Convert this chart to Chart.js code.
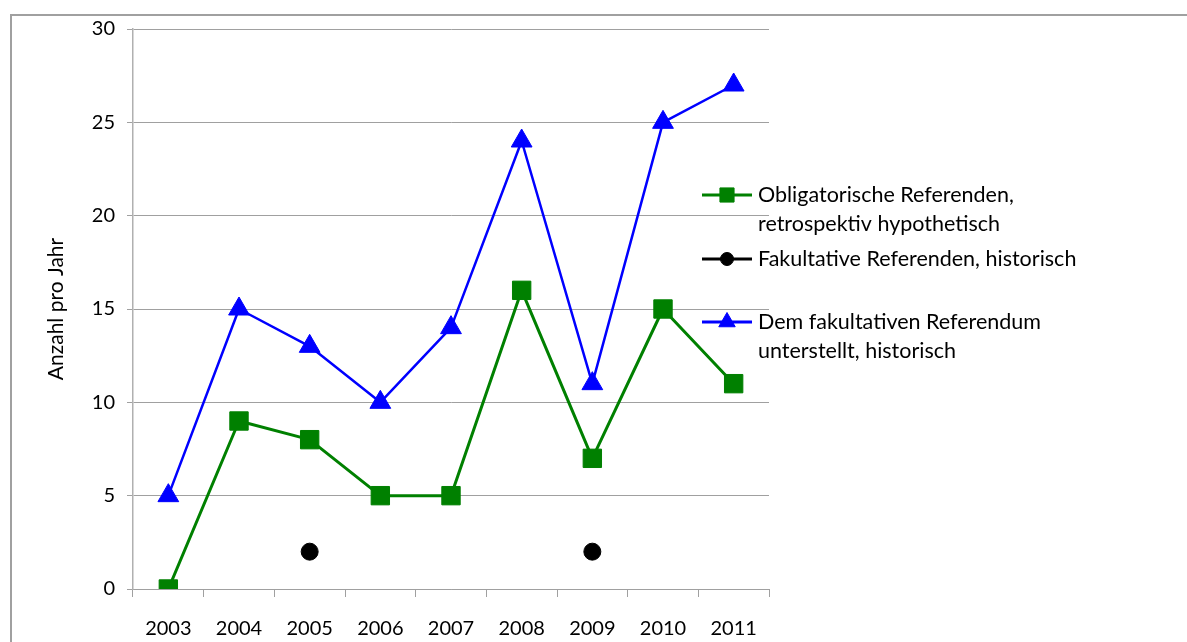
<!DOCTYPE html>
<html>
<head>
<meta charset="utf-8">
<script src="https://cdn.jsdelivr.net/npm/chart.js@4/dist/chart.umd.min.js"></script>
<style>
  html, body { margin: 0; padding: 0; background: #fff; overflow: hidden; }
  #frame { position: absolute; left: 10px; top: 14px; width: 1300px; height: 800px; border: 2px solid #a0a0a0; box-sizing: border-box; }
  #wrap { position: absolute; left: 0; top: 0; width: 1187px; height: 642px; }
</style>
</head>
<body>
<div id="frame"></div>
<div id="wrap"><canvas id="c" width="1187" height="642"></canvas></div>
<script>
const years = ['2003', '2004', '2005', '2006', '2007', '2008', '2009', '2010', '2011'];
const obligatorisch = [0, 9, 8, 5, 5, 16, 7, 15, 11];
const fakultativ = [null, null, 2, null, null, null, 2, null, null];
const unterstellt = [5, 15, 13, 10, 14, 24, 11, 25, 27];
const seriesLabels = [
  ['Obligatorische Referenden,', 'retrospektiv hypothetisch'],
  ['Fakultative Referenden, historisch'],
  ['Dem fakultativen Referendum', 'unterstellt, historisch']
];
const yTicks = [0, 5, 10, 15, 20, 25, 30];
const yTitle = 'Anzahl pro Jahr';

const FONT = 'Lato, "Open Sans", sans-serif';

const legendPlugin = {
  id: 'customLegend',
  afterDraw(chart) {
    const ctx = chart.ctx;
    const x0 = 702, x1 = 752, tx = 758;
    const rows = [195, 259, 322];
    const lh = 29;
    ctx.save();
    chart.data.datasets.forEach((ds, i) => {
      const y = rows[i];
      ctx.strokeStyle = ds.borderColor;
      ctx.lineWidth = 3;
      ctx.beginPath();
      ctx.moveTo(x0, y);
      ctx.lineTo(x1, y);
      ctx.stroke();
      ctx.fillStyle = ds.pointBackgroundColor;
      ctx.strokeStyle = ds.pointBorderColor;
      ctx.lineWidth = 1;
      Chart.helpers.drawPoint(ctx, {
        pointStyle: ds.pointStyle,
        radius: ds.legendRadius,
        borderWidth: 1,
        rotation: 0
      }, (x0 + x1) / 2, y);
      ctx.fillStyle = '#000';
      ctx.font = '21.5px ' + FONT;
      ctx.textBaseline = 'middle';
      ctx.textAlign = 'left';
      ds.label.forEach((t, j) => ctx.fillText(t, tx, y + j * lh));
    });
    ctx.restore();
  }
};

new Chart(document.getElementById('c'), {
  type: 'line',
  data: {
    labels: years,
    datasets: [
      {
        label: seriesLabels[0],
        data: obligatorisch,
        borderColor: '#008000',
        backgroundColor: '#008000',
        pointBackgroundColor: '#008000',
        pointBorderColor: '#008000',
        borderWidth: 3,
        pointStyle: 'rect',
        pointRadius: 13,
        legendRadius: 10,
        pointBorderWidth: 1,
        tension: 0,
        fill: false
      },
      {
        label: seriesLabels[1],
        data: fakultativ,
        borderColor: '#000000',
        backgroundColor: '#000000',
        pointBackgroundColor: '#000000',
        pointBorderColor: '#000000',
        borderWidth: 3,
        pointStyle: 'circle',
        pointRadius: 8.5,
        legendRadius: 6.5,
        pointBorderWidth: 1,
        spanGaps: false,
        showLine: false,
        fill: false
      },
      {
        label: seriesLabels[2],
        data: unterstellt,
        borderColor: '#0000ff',
        backgroundColor: '#0000ff',
        pointBackgroundColor: '#0000ff',
        pointBorderColor: '#0000ff',
        borderWidth: 2.5,
        pointStyle: 'triangle',
        pointRadius: 12,
        legendRadius: 9.5,
        pointBorderWidth: 1,
        tension: 0,
        fill: false
      }
    ]
  },
  options: {
    responsive: false,
    animation: false,
    devicePixelRatio: 1,
    layout: { padding: { left: 0, top: 29, right: 418, bottom: 0 } },
    plugins: {
      legend: { display: false },
      tooltip: { enabled: false },
      title: { display: false }
    },
    elements: { line: { borderCapStyle: 'round', borderJoinStyle: 'round' } },
    scales: {
      x: {
        type: 'category',
        offset: true,
        afterFit: s => { s.height = 53; },
        grid: {
          offset: true,
          drawOnChartArea: false,
          drawTicks: true,
          tickLength: 8,
          color: '#a0a0a0',
          lineWidth: 1
        },
        border: { display: true, color: '#a0a0a0', width: 1 },
        ticks: {
          color: '#000',
          font: { family: FONT, size: 20 },
          padding: 20,
          maxRotation: 0,
          autoSkip: false
        }
      },
      y: {
        min: 0,
        max: 30,
        afterFit: s => { s.width = 133; },
        afterBuildTicks: s => { s.ticks = yTicks.map(v => ({ value: v })); },
        grid: {
          color: '#a0a0a0',
          lineWidth: 1,
          drawTicks: true,
          tickLength: 6
        },
        border: { display: true, color: '#b0b0b0', width: 1.5 },
        ticks: {
          color: '#000',
          font: { family: FONT, size: 20 },
          padding: 12
        },
        title: {
          display: true,
          text: yTitle,
          color: '#000',
          font: { family: FONT, size: 21 },
          padding: { top: 44, bottom: 0 }
        }
      }
    }
  },
  plugins: [legendPlugin]
});
</script>
</body>
</html>
